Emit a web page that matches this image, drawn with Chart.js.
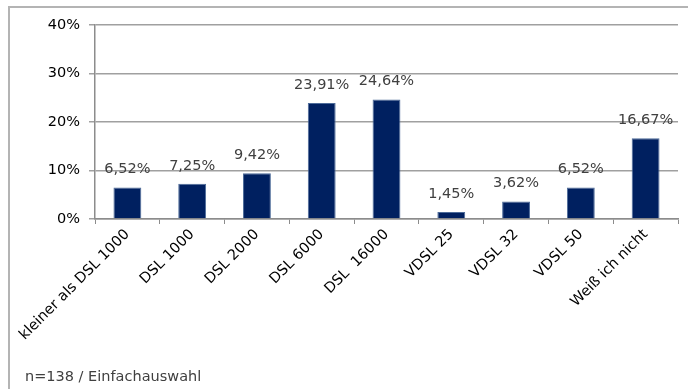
<!DOCTYPE html>
<html>
<head>
<meta charset="utf-8">
<script src="https://cdn.jsdelivr.net/npm/chart.js@4"></script>
<style>
  html, body { margin: 0; padding: 0; background: #fff; }
  #wrap { width: 688px; height: 389px; position: relative; }
</style>
</head>
<body>
<div id="wrap"><canvas id="myChart" width="688" height="389"></canvas></div>
<script>
// Breitband-Umfrage, Werte in Prozent
const categories = ['kleiner als DSL 1000', 'DSL 1000', 'DSL 2000', 'DSL 6000', 'DSL  16000',
                    'VDSL 25', 'VDSL 32', 'VDSL 50', 'Weiß ich nicht'];
const shares = [6.52, 7.25, 9.42, 23.91, 24.64, 1.45, 3.62, 6.52, 16.67];
const yTicks = [0, 10, 20, 30, 40];
const footnote = 'n=138 / Einfachauswahl';

const FONT = "'DejaVu Sans', Verdana, sans-serif";

// value labels above the bars + frame + footnote
const extras = {
    id: 'extras',
    beforeDraw(chart) {
        const c = chart.ctx;
        c.save();
        c.strokeStyle = '#b4b4b4';
        c.lineWidth = 2;
        c.beginPath();
        c.moveTo(9, 389);
        c.lineTo(9, 7);
        c.lineTo(688, 7);
        c.stroke();
        c.restore();
    },
    afterDatasetsDraw(chart) {
        const c = chart.ctx;
        const meta = chart.getDatasetMeta(0);
        c.save();
        c.font = '14.5px ' + FONT;
        c.fillStyle = '#404040';
        c.textAlign = 'center';
        c.textBaseline = 'alphabetic';
        meta.data.forEach((bar, i) => {
            const txt = shares[i].toFixed(2).replace('.', ',') + '%';
            c.fillText(txt, bar.x, bar.y - 14);
        });
        c.textAlign = 'left';
        c.fillText(footnote, 25, 381);
        c.restore();
    }
};

new Chart(document.getElementById('myChart'), {
    type: 'bar',
    data: {
        labels: categories,
        datasets: [{
            data: shares,
            backgroundColor: '#002060',
            borderColor: '#4d6b99',
            borderWidth: 1,
            barPercentage: 0.43,
            categoryPercentage: 1.0
        }]
    },
    options: {
        responsive: false,
        animation: false,
        layout: { padding: { top: 25, right: 10, left: 0, bottom: 0 } },
        plugins: {
            legend: { display: false },
            tooltip: { enabled: false }
        },
        scales: {
            x: {
                afterFit(scale) { scale.height = 170; },
                grid: {
                    drawOnChartArea: false,
                    drawTicks: true,
                    tickLength: 5,
                    color: '#8c8c8c',
                    offset: true
                },
                border: { color: '#8c8c8c', width: 1.5 },
                ticks: {
                    minRotation: 45,
                    maxRotation: 45,
                    autoSkip: false,
                    padding: 2,
                    color: '#000',
                    font: { family: FONT, size: 14.5 }
                }
            },
            y: {
                min: 0,
                max: 40,
                afterFit(scale) { scale.width = 95; },
                afterBuildTicks(scale) { scale.ticks = yTicks.map(v => ({ value: v })); },
                grid: {
                    color: '#a0a0a0',
                    lineWidth: 1.5,
                    tickLength: 6
                },
                border: { color: '#8c8c8c', width: 1.5 },
                ticks: {
                    padding: 9,
                    color: '#000',
                    font: { family: FONT, size: 14.5 },
                    callback: v => v + '%'
                }
            }
        }
    },
    plugins: [extras]
});
</script>
</body>
</html>
